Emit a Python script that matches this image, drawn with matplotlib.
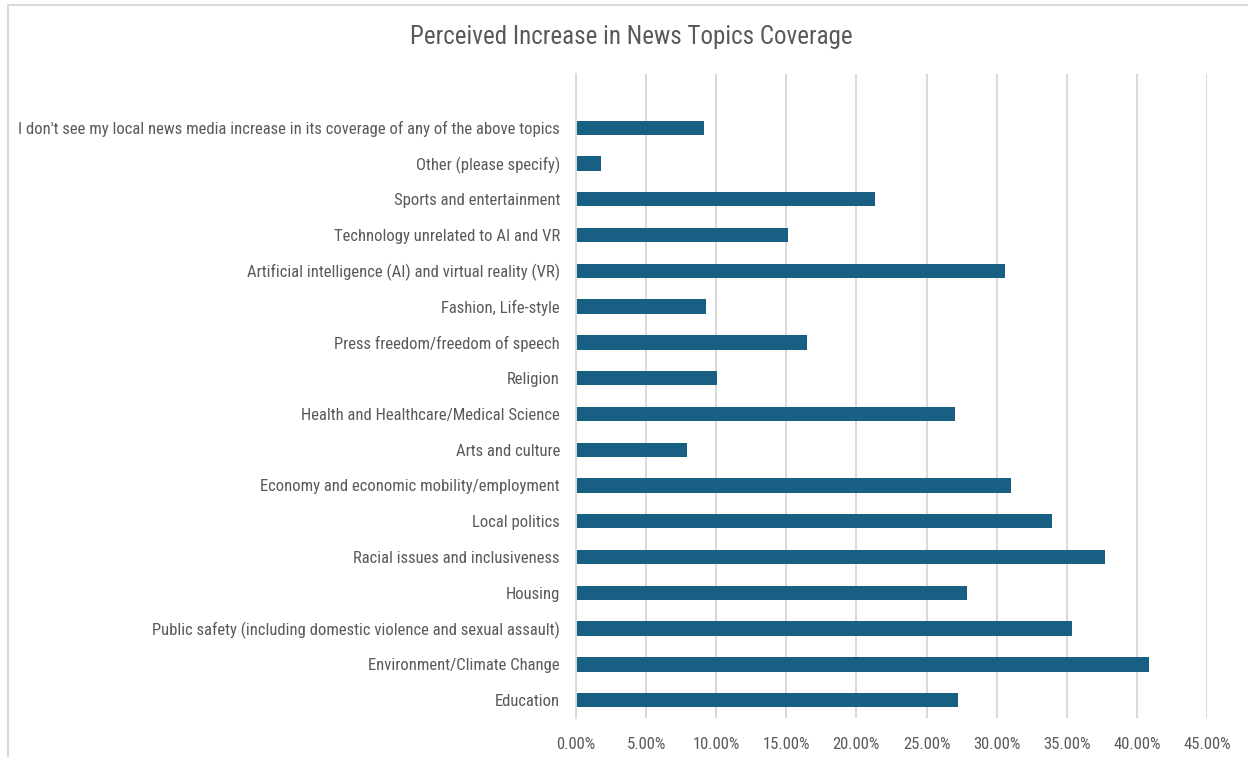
import matplotlib.pyplot as plt
from matplotlib.patches import Rectangle
from matplotlib.ticker import FuncFormatter, MultipleLocator
from matplotlib import font_manager

# topics, bottom to top
topics = [
    "Education",
    "Environment/Climate Change",
    "Public safety (including domestic violence and sexual assault)",
    "Housing",
    "Racial issues and inclusiveness",
    "Local politics",
    "Economy and economic mobility/employment",
    "Arts and culture",
    "Health and Healthcare/Medical Science",
    "Religion",
    "Press freedom/freedom of speech",
    "Fashion, Life-style",
    "Artificial intelligence (AI) and virtual reality (VR)",
    "Technology unrelated to AI and VR",
    "Sports and entertainment",
    "Other (please specify)",
    "I don't see my local news media increase in its coverage of any of the above topics",
]
shares = [27.25, 40.85, 35.35, 27.9, 37.75, 33.95, 31.0, 7.9, 27.0,
          10.05, 16.45, 9.25, 30.6, 15.1, 21.3, 1.8, 9.1]

# a narrow face for the long topic names
names = {f.name for f in font_manager.fontManager.ttflist}
family = "Roboto"
for cand in ["Aptos Narrow", "Roboto Condensed", "Archivo Narrow", "PT Sans Narrow",
             "IBM Plex Sans Condensed"]:
    if cand in names:
        family = cand
        break
plt.rcParams["font.family"] = [family, "DejaVu Sans"]

text_col = "#595959"
grid_col = "#d9d9d9"
bar_col = "#176084"

fig = plt.figure(figsize=(12.48, 7.57), dpi=100)
ax = fig.add_axes([0.4615, 0.0515, 0.5056, 0.8507])

ypos = list(range(len(topics)))
ax.barh(ypos, [s / 100 for s in shares], height=0.4, color=bar_col, zorder=3)

ax.set_xlim(0, 0.45)
# one empty slot above the last topic
ax.set_ylim(-0.5, len(topics) + 0.5)
ax.xaxis.set_major_locator(MultipleLocator(0.05))
ax.xaxis.set_major_formatter(FuncFormatter(lambda v, p: f"{v * 100:.2f}%"))
ax.set_yticks(ypos)
ax.set_yticklabels(topics)
ax.tick_params(axis="both", length=0, labelsize=12, colors=text_col)
ax.tick_params(axis="y", pad=11.5)
ax.tick_params(axis="x", pad=14)

ax.grid(axis="x", color=grid_col, linewidth=1.4, zorder=0)
for s in ["top", "right", "bottom"]:
    ax.spines[s].set_visible(False)
ax.spines["left"].set_color(grid_col)
ax.spines["left"].set_linewidth(1.4)
ax.spines["left"].set_zorder(4)

fig.text(0.5056, 0.951, "Perceived Increase in News Topics Coverage",
         ha="center", va="center", fontsize=18, color=text_col)

# light chart-area border
fig.patches.append(Rectangle((0.0065, -0.01), 1.0, 1.003, transform=fig.transFigure,
                             fill=False, edgecolor=grid_col, linewidth=1.5))

fig.savefig("out.png", dpi=100)
